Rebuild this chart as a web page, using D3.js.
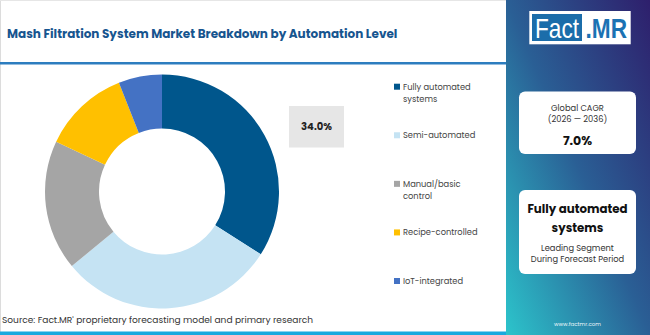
<!DOCTYPE html>
<html><head><meta charset="utf-8">
<script src="https://cdn.jsdelivr.net/npm/d3@7"></script>
<style>
html,body{margin:0;padding:0;background:#fff;}
svg{display:block;}
</style></head>
<body>
<svg id="chart" width="650" height="335"></svg>
<script>
const categories = ["Fully automated systems","Semi-automated","Manual/basic control","Recipe-controlled","IoT-integrated"];
const legendLines = [["Fully automated","systems"],["Semi-automated"],["Manual/basic","control"],["Recipe-controlled"],["IoT-integrated"]];
const shares = [34.0, 30.0, 18.0, 12.0, 6.0];
const colors = ["#00568C","#C5E3F3","#A5A5A5","#FFC000","#4472C4"];
const titleText = "Mash Filtration System Market Breakdown by Automation Level";
const sourceText = "Source: Fact.MR' proprietary forecasting model and primary research";
const cagrLabel = ["Global CAGR","(2026 \u2014 2036)"];
const cagrValue = "7.0%";
const leadLines = ["Fully automated","systems"];
const leadSub = ["Leading Segment","During Forecast Period"];

const font = "Poppins, 'Open Sans', sans-serif";
const svg = d3.select("#chart");
const W = 650, H = 335;

// background & borders
svg.append("rect").attr("x",0).attr("y",0).attr("width",W).attr("height",H).attr("fill","#fff");
svg.append("line").attr("x1",0.5).attr("x2",0.5).attr("y1",0).attr("y2",H).attr("stroke","#dcdcdc");
svg.append("line").attr("x1",0).attr("x2",506).attr("y1",0.5).attr("y2",0.5).attr("stroke","#e6e6e6");

// title
svg.append("text").attr("x",7).attr("y",37.5).text(titleText)
  .attr("font-family",font).attr("font-weight",700).attr("font-size",12)
  .attr("fill","#17558F");
svg.append("rect").attr("x",0).attr("y",62).attr("width",507).attr("height",2.5).attr("fill","#2C7DBF");

// bottom bar
svg.append("rect").attr("x",0).attr("y",331.5).attr("width",507).attr("height",3.5).attr("fill","#19A9DE");

// source
svg.append("text").attr("x",2).attr("y",323.3).text(sourceText)
  .attr("font-family",font).attr("font-size",9.05).attr("fill","#333");

// donut
const cx = 162, cy = 191.5, rO = 117, rI = 63;
const pie = d3.pie().sort(null).value(d=>d)(shares);
const arc = d3.arc().innerRadius(rI).outerRadius(rO);
const g = svg.append("g").attr("transform",`translate(${cx},${cy})`);
g.selectAll("path").data(pie).join("path").attr("d",arc).attr("fill",(d,i)=>colors[i]);

// label box for leading value
svg.append("rect").attr("x",289).attr("y",106).attr("width",55).attr("height",41.5).attr("fill","#E6E6E6");
svg.append("text").attr("x",316.5).attr("y",130.3).attr("text-anchor","middle")
  .text(d3.format(".1f")(shares[0])+"%")
  .attr("font-family",font).attr("font-weight",700).attr("font-size",10).attr("fill","#222");

// legend
const legY = d3.scalePoint().domain(d3.range(categories.length)).range([86.7,281]);
const leg = svg.append("g");
legendLines.forEach((lines,i)=>{
  const y = legY(i);
  leg.append("rect").attr("x",394).attr("y",y-3).attr("width",6).attr("height",6).attr("fill",colors[i]);
  lines.forEach((l,j)=>{
    leg.append("text").attr("x",403).attr("y",y+3+j*12.4).text(l)
      .attr("font-family",font).attr("font-size",8.3).attr("fill","#444");
  });
});

// right panel
const defs = svg.append("defs");
const grad = defs.append("linearGradient").attr("id","pg").attr("x1","1").attr("y1","0").attr("x2","0").attr("y2","1");
grad.append("stop").attr("offset","0").attr("stop-color","#2E1F6C");
grad.append("stop").attr("offset","0.5").attr("stop-color","#2A5F95");
grad.append("stop").attr("offset","1").attr("stop-color","#2CC4CB");
svg.append("rect").attr("x",506).attr("y",0).attr("width",144).attr("height",H).attr("fill","url(#pg)");

// logo
const logoFont = "'Liberation Sans',Arial,sans-serif";
svg.append("rect").attr("x",529.3).attr("y",11).attr("width",101.4).attr("height",33.3).attr("fill","#fff");
svg.append("rect").attr("x",532).attr("y",14).attr("width",50).attr("height",27).attr("fill","#1B6DAA");
svg.append("text").attr("x",535).attr("y",38.3).text("Fact")
  .attr("textLength",44).attr("lengthAdjust","spacingAndGlyphs")
  .attr("font-family",logoFont).attr("font-size",28).attr("fill","#fff");
svg.append("text").attr("x",585.5).attr("y",38.3).text(".MR")
  .attr("textLength",41.5).attr("lengthAdjust","spacingAndGlyphs")
  .attr("font-family",logoFont).attr("font-weight",700).attr("font-size",28).attr("fill","#1B72B3");

// cards
const pcx = 577.5;
svg.append("rect").attr("x",519).attr("y",91.5).attr("width",117).attr("height",62.5).attr("rx",6).attr("fill","#fff");
cagrLabel.forEach((t,i)=>{
  svg.append("text").attr("x",pcx).attr("y",111+i*11.3).attr("text-anchor","middle").text(t)
    .attr("font-family",font).attr("font-size",8.3).attr("fill","#333");
});
svg.append("text").attr("x",pcx).attr("y",144.5).attr("text-anchor","middle").text(cagrValue)
  .attr("font-family",font).attr("font-weight",700).attr("font-size",12.5).attr("fill","#111");

svg.append("rect").attr("x",519).attr("y",190).attr("width",117).attr("height",84).attr("rx",6).attr("fill","#fff");
leadLines.forEach((t,i)=>{
  svg.append("text").attr("x",pcx).attr("y",213.3+i*18.7).attr("text-anchor","middle").text(t)
    .attr("font-family",font).attr("font-weight",700).attr("font-size",11.8).attr("fill","#111");
});
leadSub.forEach((t,i)=>{
  svg.append("text").attr("x",pcx).attr("y",250.5+i*11).attr("text-anchor","middle").text(t)
    .attr("font-family",font).attr("font-size",8.3).attr("fill","#333");
});
svg.append("text").attr("x",pcx).attr("y",325.5).attr("text-anchor","middle").text("www.factmr.com")
  .attr("font-family",font).attr("font-size",5.5).attr("fill","#e8f4f8");
</script>
</body></html>
